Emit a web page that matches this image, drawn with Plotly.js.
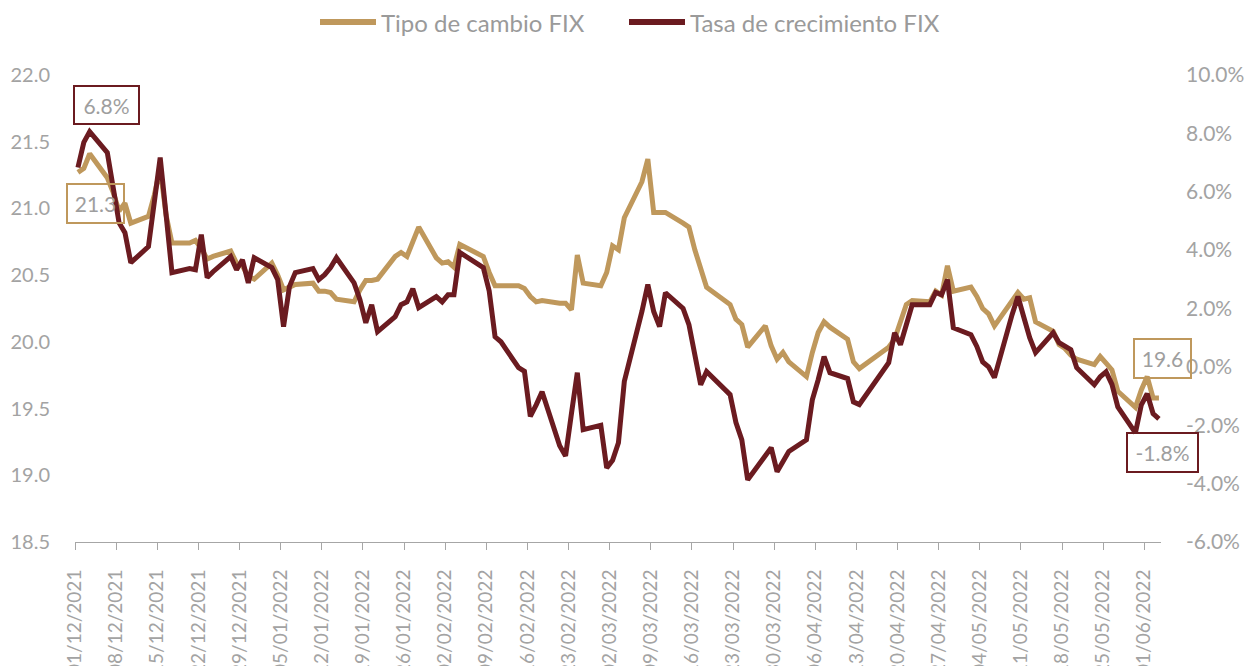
<!DOCTYPE html>
<html>
<head>
<meta charset="utf-8">
<script src="https://cdn.plot.ly/plotly-3.0.1.min.js"></script>
<style>html,body{margin:0;padding:0;background:#fff;}#chart{width:1253px;height:666px;}</style>
</head>
<body>
<div id="chart"></div>
<script>
// ---- Data ----
const fechas = [
 '2021-12-01','2021-12-02','2021-12-03','2021-12-06','2021-12-07','2021-12-08','2021-12-09','2021-12-10',
 '2021-12-13','2021-12-14','2021-12-15','2021-12-16','2021-12-17','2021-12-20','2021-12-21','2021-12-22',
 '2021-12-23','2021-12-24','2021-12-27','2021-12-28','2021-12-29','2021-12-30','2021-12-31',
 '2022-01-03','2022-01-04','2022-01-05','2022-01-06','2022-01-07','2022-01-10','2022-01-11','2022-01-12',
 '2022-01-13','2022-01-14','2022-01-17','2022-01-18','2022-01-19','2022-01-20','2022-01-21','2022-01-24',
 '2022-01-25','2022-01-26','2022-01-27','2022-01-28','2022-01-31',
 '2022-02-01','2022-02-02','2022-02-03','2022-02-04','2022-02-08','2022-02-09','2022-02-10','2022-02-11',
 '2022-02-14','2022-02-15','2022-02-16','2022-02-17','2022-02-18','2022-02-21','2022-02-22','2022-02-23',
 '2022-02-24','2022-02-25','2022-02-28',
 '2022-03-01','2022-03-02','2022-03-03','2022-03-04','2022-03-07','2022-03-08','2022-03-09','2022-03-10',
 '2022-03-11','2022-03-14','2022-03-15','2022-03-16','2022-03-17','2022-03-18','2022-03-22','2022-03-23',
 '2022-03-24','2022-03-25','2022-03-28','2022-03-29','2022-03-30','2022-03-31',
 '2022-04-01','2022-04-04','2022-04-05','2022-04-06','2022-04-07','2022-04-08','2022-04-11','2022-04-12',
 '2022-04-13','2022-04-18','2022-04-19','2022-04-20','2022-04-21','2022-04-22','2022-04-25','2022-04-26',
 '2022-04-27','2022-04-28','2022-04-29',
 '2022-05-02','2022-05-03','2022-05-04','2022-05-05','2022-05-06','2022-05-09','2022-05-10','2022-05-11',
 '2022-05-12','2022-05-13','2022-05-16','2022-05-17','2022-05-18','2022-05-19','2022-05-20','2022-05-23',
 '2022-05-24','2022-05-25','2022-05-26','2022-05-27','2022-05-30','2022-05-31',
 '2022-06-01','2022-06-02','2022-06-03'
];
const tipoCambio = [
 21.27,21.30,21.41,21.23,21.12,20.98,21.04,20.89,
 20.94,21.10,21.30,20.95,20.74,20.74,20.76,20.70,
 20.62,20.64,20.68,20.59,20.57,20.49,20.47,
 20.59,20.50,20.39,20.41,20.43,20.44,20.38,20.38,
 20.37,20.32,20.30,20.39,20.46,20.46,20.47,20.64,
 20.67,20.64,20.75,20.86,20.63,
 20.59,20.60,20.56,20.73,20.64,20.52,20.42,20.42,
 20.42,20.40,20.34,20.30,20.31,20.29,20.29,20.24,
 20.65,20.44,20.42,
 20.52,20.72,20.69,20.93,21.20,21.37,20.97,20.97,
 20.97,20.89,20.86,20.69,20.54,20.41,20.28,20.17,
 20.13,19.96,20.12,19.97,19.87,19.92,
 19.85,19.74,19.92,20.07,20.15,20.11,20.02,19.85,
 19.80,19.96,20.02,20.14,20.28,20.31,20.30,20.38,
 20.35,20.57,20.38,
 20.41,20.34,20.25,20.21,20.12,20.30,20.37,20.32,
 20.33,20.15,20.08,19.98,19.95,19.90,19.87,19.83,
 19.89,19.84,19.79,19.63,19.51,19.64,
 19.74,19.58,19.58
];
const tasaCrecimiento = [
 6.83,7.69,8.06,7.34,6.14,4.94,4.60,3.57,
 4.12,5.73,7.17,5.22,3.23,3.37,3.33,4.53,
 3.06,3.26,3.78,3.33,3.67,2.88,3.74,
 3.40,2.99,1.38,2.75,3.23,3.37,2.99,3.16,
 3.40,3.74,2.88,2.30,1.51,2.13,1.21,1.72,
 2.13,2.23,2.68,2.03,2.41,
 2.23,2.47,2.47,3.92,3.40,2.60,1.03,0.86,
 -0.03,-0.15,-1.70,-1.30,-0.85,-2.70,-3.05,-1.60,
 -0.20,-2.15,-2.00,
 -3.46,-3.20,-2.60,-0.50,1.90,2.82,1.90,1.38,
 2.54,2.00,1.45,0.42,-0.61,-0.16,-0.95,-1.91,
 -2.50,-3.87,-3.08,-2.77,-3.59,-3.25,
 -2.90,-2.50,-1.13,-0.44,0.35,-0.20,-0.40,-1.20,
 -1.29,0.14,1.17,0.76,1.50,2.13,2.13,2.55,
 2.47,2.99,1.34,
 1.10,0.70,0.17,0.00,-0.37,1.79,2.41,1.70,
 1.00,0.49,1.17,0.83,0.72,0.59,-0.03,-0.61,
 -0.34,-0.17,-0.60,-1.37,-2.26,-1.30,
 -0.92,-1.60,-1.78
];
const tickFechas = [
 '2021-12-01','2021-12-08','2021-12-15','2021-12-22','2021-12-29','2022-01-05','2022-01-12',
 '2022-01-19','2022-01-26','2022-02-02','2022-02-09','2022-02-16','2022-02-23','2022-03-02',
 '2022-03-09','2022-03-16','2022-03-23','2022-03-30','2022-04-06','2022-04-13','2022-04-20',
 '2022-04-27','2022-05-04','2022-05-11','2022-05-18','2022-05-25','2022-06-01'
];
const tickEtiquetas = [
 '01/12/2021','08/12/2021','15/12/2021','22/12/2021','29/12/2021','05/01/2022','12/01/2022',
 '19/01/2022','26/01/2022','02/02/2022','09/02/2022','16/02/2022','23/02/2022','02/03/2022',
 '09/03/2022','16/03/2022','23/03/2022','30/03/2022','06/04/2022','13/04/2022','20/04/2022',
 '27/04/2022','04/05/2022','11/05/2022','18/05/2022','25/05/2022','01/06/2022'
];
const ticksTasa = [-6, -4, -2, 0, 2, 4, 6, 8, 10];
const ticksTasaTexto = ['-6.0%', '-4.0%', '-2.0%', '0.0%', '2.0%', '4.0%', '6.0%', '8.0%', '10.0%'];
const nombres = ['Tipo de cambio FIX', 'Tasa de crecimiento FIX'];
const etiquetas = ['6.8%', '21.3', '19.6', '-1.8%'];

// ---- Styles ----
const ORO = '#BF985C';
const GUINDA = '#6B1B20';
const GRIS = '#a3a3a3';
const FONT = 'Lato, "Open Sans", sans-serif';

// Each daily value sits in the middle of its day slot (as in a date axis chart)
const xMid = fechas.map(f => f + ' 12:00');

const traces = [
  {x: xMid, y: tipoCambio, name: nombres[0], type: 'scatter', mode: 'lines',
   line: {color: ORO, width: 5, shape: 'linear'}, yaxis: 'y', hoverinfo: 'skip'},
  {x: xMid, y: tasaCrecimiento, name: nombres[1], type: 'scatter', mode: 'lines',
   line: {color: GUINDA, width: 5, shape: 'linear'}, yaxis: 'y2', hoverinfo: 'skip'}
];

const W = 1086, H = 467, L = 75, B = 542;
const px = v => (v - L) / W;
const py = v => (B - v) / H;

function boxAnn(text, cx, cy, w, h, color) {
  return {text: text, xref: 'paper', yref: 'paper', x: px(cx), y: py(cy),
    xanchor: 'center', yanchor: 'middle', showarrow: false,
    width: w, height: h, borderpad: 0, borderwidth: 2, bordercolor: color,
    bgcolor: 'rgba(0,0,0,0)', font: {family: FONT, size: 21, color: '#9e9e9e'}};
}

const layout = {
  width: 1253, height: 666,
  margin: {l: 75, r: 92, t: 75, b: 124, pad: 0},
  paper_bgcolor: '#ffffff', plot_bgcolor: '#ffffff',
  font: {family: FONT, size: 20, color: GRIS},
  showlegend: false,
  xaxis: {
    type: 'date', range: ['2021-12-01 00:00', '2022-06-03 20:24'],
    tickmode: 'array', tickvals: tickFechas, ticktext: tickEtiquetas,
    tickangle: -90, ticks: 'outside', ticklen: 7, tickwidth: 1, tickcolor: '#a6a6a6',
    showline: true, linecolor: '#a6a6a6', linewidth: 1,
    showgrid: false, zeroline: false, automargin: false,
    ticklabelstandoff: 12,
    tickfont: {family: FONT, size: 19, color: GRIS}
  },
  yaxis: {
    range: [18.5, 22], tick0: 18.5, dtick: 0.5, tickformat: '.1f',
    showgrid: false, zeroline: false, showline: false, ticks: '',
    automargin: false, ticklabelstandoff: 24,
    tickfont: {family: FONT, size: 20, color: GRIS}
  },
  yaxis2: {
    overlaying: 'y', side: 'right', range: [-6, 10],
    tickmode: 'array', tickvals: ticksTasa, ticktext: ticksTasaTexto,
    showgrid: false, zeroline: false, showline: false, ticks: '',
    automargin: false, ticklabelstandoff: 24,
    tickfont: {family: FONT, size: 21, color: GRIS}
  },
  shapes: [
    {type: 'line', xref: 'paper', yref: 'paper', x0: px(320), x1: px(376), y0: py(22), y1: py(22),
     line: {color: ORO, width: 6}},
    {type: 'line', xref: 'paper', yref: 'paper', x0: px(629), x1: px(685), y0: py(22), y1: py(22),
     line: {color: GUINDA, width: 6}}
  ],
  annotations: [
    {text: nombres[0], xref: 'paper', yref: 'paper', x: px(379), y: py(22), xanchor: 'left', yanchor: 'middle',
     showarrow: false, font: {family: FONT, size: 24, color: '#9a9a9a'}},
    {text: nombres[1], xref: 'paper', yref: 'paper', x: px(688), y: py(22), xanchor: 'left', yanchor: 'middle',
     showarrow: false, font: {family: FONT, size: 24, color: '#9a9a9a'}},
    boxAnn(etiquetas[0], 106.5, 105, 63, 36, GUINDA),
    boxAnn(etiquetas[1], 95.5, 203.5, 55, 37, ORO),
    boxAnn(etiquetas[2], 1162.5, 358.5, 55, 37, ORO),
    boxAnn(etiquetas[3], 1162.5, 452.5, 69, 37, GUINDA)
  ]
};

Plotly.newPlot('chart', traces, layout, {displayModeBar: false, staticPlot: true});
</script>
</body>
</html>
